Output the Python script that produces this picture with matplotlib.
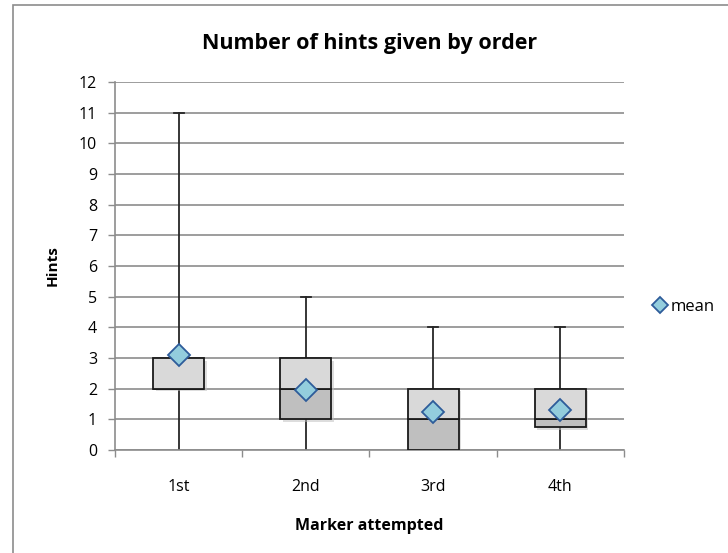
import matplotlib.pyplot as plt
import numpy as np
from matplotlib.patches import Rectangle

plt.rcParams['font.family'] = ['Open Sans', 'DejaVu Sans']

categories = ['1st', '2nd', '3rd', '4th']
mins = [0, 0, 0, 0]
q1s = [2, 1, 0, 0.75]
medians = [2, 2, 1, 1]
q3s = [3, 3, 2, 2]
maxs = [11, 5, 4, 4]
means = [3.1, 1.95, 1.25, 1.3]

fig = plt.figure(figsize=(7.28, 5.53), dpi=100)
fig.patches.append(Rectangle((0.018, -0.01), 1.0, 1.001, transform=fig.transFigure,
                             fill=False, edgecolor='#8c8c8c', linewidth=1.2))
ax = fig.add_axes([0.158, 0.186, 0.699, 0.666])

x = np.arange(len(categories))
w = 0.4

# whiskers
for xi, lo, hi, q1, q3 in zip(x, mins, maxs, q1s, q3s):
    ax.plot([xi, xi], [lo, q1], color='#262626', lw=1.3, zorder=2)
    ax.plot([xi, xi], [q3, hi], color='#262626', lw=1.3, zorder=2)
    ax.plot([xi - 0.04, xi + 0.04], [hi, hi], color='#262626', lw=1.3, zorder=2)

lower = np.array(medians) - np.array(q1s)
upper = np.array(q3s) - np.array(medians)
# shadows
ax.bar(x + 0.02, np.array(q3s) - np.array(q1s), w, bottom=np.array(q1s) - 0.08,
       color='#bdbdbd', alpha=0.5, zorder=2.5, linewidth=0)
ax.bar(x, lower, w, bottom=q1s, color='#bfbfbf', edgecolor='#1a1a1a', linewidth=1.3, zorder=3)
ax.bar(x, upper, w, bottom=medians, color='#d9d9d9', edgecolor='#1a1a1a', linewidth=1.3, zorder=3)

ax.plot(x, means, linestyle='none', marker='D', markersize=11, markerfacecolor='#93cddd',
        markeredgecolor='#2e5c9a', markeredgewidth=1.3, zorder=5, label='mean')

ax.set_xlim(-0.5, 3.5)
ax.set_ylim(0, 12)
ax.set_yticks(range(0, 13))
ax.set_xticks(x)
ax.set_xticklabels(categories, fontsize=11.5)
ax.tick_params(axis='y', labelsize=11.5, length=5, color='#8c8c8c', width=1, pad=8)
ax.set_xticks(np.arange(-0.5, 4.0, 1), minor=True)
ax.tick_params(axis='x', which='major', length=0, pad=21)
ax.tick_params(axis='x', which='minor', length=5, color='#8c8c8c', width=1)
ax.yaxis.grid(True, color='#8c8c8c', linewidth=1.2)
ax.set_axisbelow(True)
for s in ['top', 'right']:
    ax.spines[s].set_visible(False)
for s in ['left', 'bottom']:
    ax.spines[s].set_color('#8c8c8c')
    ax.spines[s].set_linewidth(1.2)

ax.set_title('Number of hints given by order', fontsize=15.5, fontweight='bold', pad=24)
ax.set_ylabel('Hints', fontsize=11, fontweight='bold', labelpad=14)
ax.set_xlabel('Marker attempted', fontsize=11.5, fontweight='bold', labelpad=16)

fig.legend(*ax.get_legend_handles_labels(), loc='center left',
           bbox_to_anchor=(652 / 728, 1 - 307 / 553), frameon=False, fontsize=12,
           handletextpad=0.1, handlelength=1.0, markerscale=0.75, borderaxespad=0, borderpad=0)

fig.savefig('out.png', dpi=100)
